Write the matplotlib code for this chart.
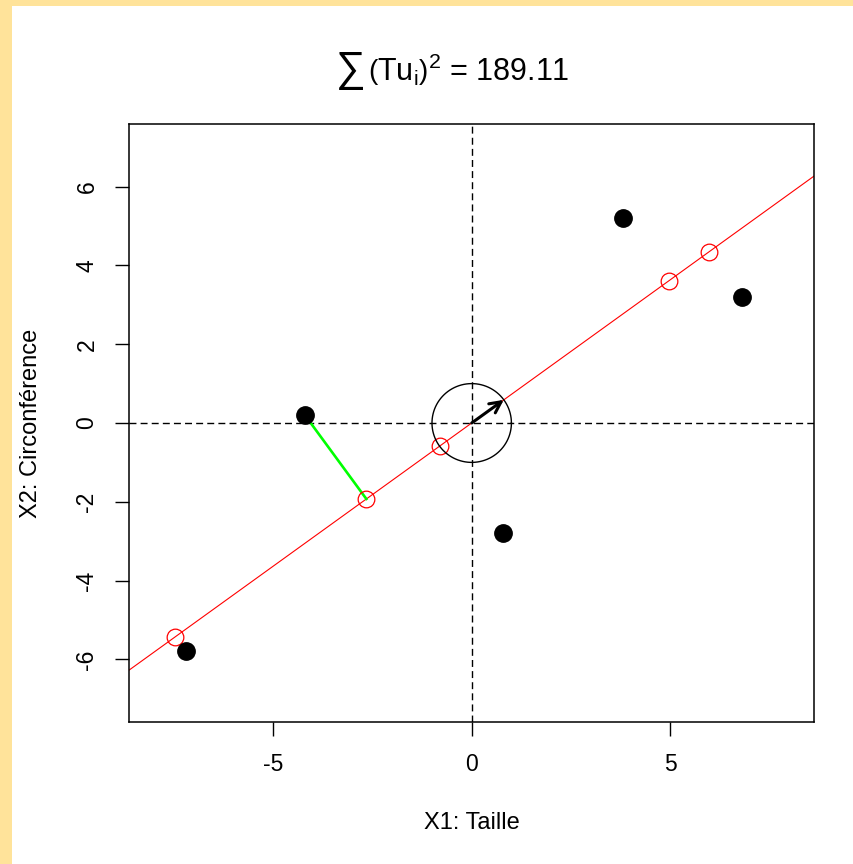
import matplotlib
matplotlib.use("Agg")
import matplotlib.pyplot as plt
import numpy as np

plt.rcParams['font.family'] = ['Liberation Sans', 'DejaVu Sans']
plt.rcParams['mathtext.fontset'] = 'custom'
plt.rcParams['mathtext.rm'] = 'Liberation Sans'
plt.rcParams['mathtext.it'] = 'Liberation Sans'
plt.rcParams['axes.unicode_minus'] = False

# centred data: size and circumference
taille = np.array([-4.2, 3.8, 6.8, 0.8, -7.2])
circonf = np.array([0.2, 5.2, 3.2, -2.8, -5.8])
highlight = 0  # point whose projection residual is drawn

# first principal direction
X = np.column_stack([taille, circonf])
vals, vecs = np.linalg.eigh(X.T @ X)
u = vecs[:, np.argmax(vals)]
if u[0] < 0:
    u = -u
t = X @ u
proj = np.outer(t, u)
ss = np.sum(t ** 2)

fig = plt.figure(figsize=(8.54, 8.64), dpi=100)
fig.patch.set_facecolor('#ffe39a')
# white panel with yellow strip at top and left
fig.add_artist(plt.Rectangle((12 / 854, 0), 1, 1 - 6 / 864, transform=fig.transFigure,
                             facecolor='white', edgecolor='none', zorder=-1))

ax = fig.add_axes([129 / 854, 142 / 864, 685 / 854, 598 / 864])
ax.set_xlim(-8.63, 8.62)
ax.set_ylim(-7.59, 7.59)

ax.axhline(0, color='black', lw=1, ls=(0, (5, 3)))
ax.axvline(0, color='black', lw=1, ls=(0, (5, 3)))

xx = np.array([-10, 10])
ax.plot(xx, xx * u[1] / u[0], color='red', lw=0.8)

ax.plot([taille[highlight], proj[highlight, 0]], [circonf[highlight], proj[highlight, 1]],
        color='#00ff00', lw=1.9)

ax.plot(proj[:, 0], proj[:, 1], 'o', mfc='none', mec='red', ms=12, mew=0.9)
ax.plot(taille, circonf, 'o', color='black', ms=12.5)

th = np.linspace(0, 2 * np.pi, 200)
ax.plot(np.cos(th), np.sin(th), color='black', lw=1)
ax.annotate('', xy=(u[0], u[1]), xytext=(0, 0),
            arrowprops=dict(arrowstyle='->,head_length=0.8,head_width=0.4', color='black', lw=2.2,
                            shrinkA=0, shrinkB=0))

ax.set_xticks([-5, 0, 5])
ax.set_yticks([-6, -4, -2, 0, 2, 4, 6])
ax.set_yticklabels(['-6', '-4', '-2', '0', '2', '4', '6'], rotation=90, va='center')
ax.tick_params(length=10, width=1, labelsize=16.5, pad=12)
for s in ax.spines.values():
    s.set_linewidth(1.1)

ax.set_xlabel('X1: Taille', fontsize=17, labelpad=26)
ax.set_ylabel('X2: Circonférence', fontsize=17, labelpad=24)

# title: big sum sign, then the rest
ty = 1 - 70 / 864
fig.text(366 / 854, ty, '\u2211', ha='right', va='center', fontsize=30)
fig.text(368 / 854, ty, r'$\left(\mathrm{Tu_i}\right)^2$' + ' = %.2f' % ss,
         ha='left', va='center', fontsize=22)

fig.savefig('out.png', dpi=100)
